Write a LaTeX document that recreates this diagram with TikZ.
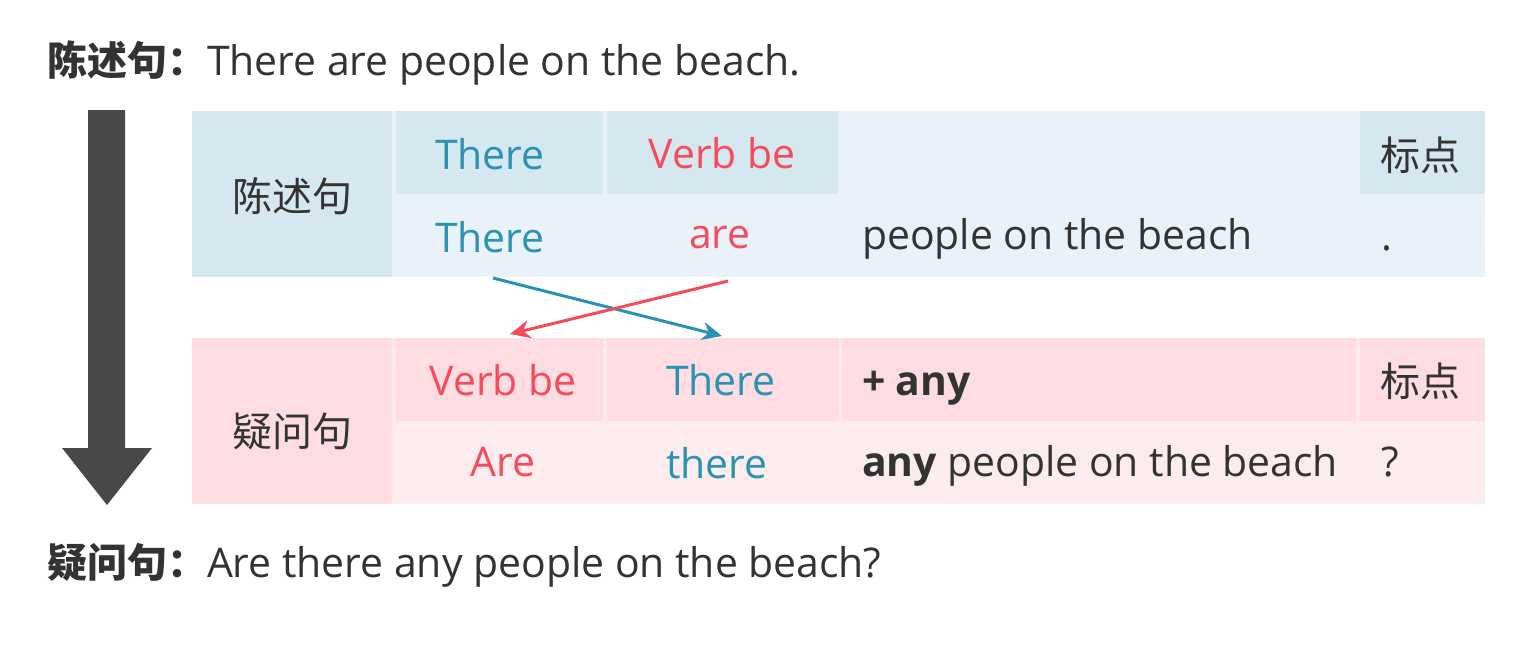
\documentclass[tikz,border=0pt]{standalone}
\usepackage{fontspec}
\setmainfont{Open Sans}
\newfontfamily\cjk{Noto Sans CJK SC}
\usetikzlibrary{arrows.meta}
\definecolor{txt}{HTML}{333333}
\definecolor{blu}{HTML}{2A92B4}
\definecolor{rd}{HTML}{F74B5B}
\definecolor{bdark}{HTML}{D5E8EF}
\definecolor{blight}{HTML}{E8F2F8}
\definecolor{pdark}{HTML}{FDDDE1}
\definecolor{plight}{HTML}{FDECEE}
\definecolor{arr}{HTML}{484848}
\newcommand\bigfont{\fontsize{40.9}{48}\selectfont}
\newcommand\zhfont{\fontsize{40}{48}\selectfont\cjk}
\begin{document}
\begin{tikzpicture}[x=1pt,y=-1pt,
  cell/.style={anchor=north west, inner sep=0pt, outer sep=0pt, draw=none},
  lbl/.style={inner sep=0pt, outer sep=0pt, font=\bigfont, text=txt, anchor=base},
  lblw/.style={lbl, anchor=base west},
  zh/.style={inner sep=0pt, outer sep=0pt, font=\zhfont, text=txt, anchor=center},
  swap/.style={line width=3pt, -{Stealth[length=20pt,width=18pt]}}]
\useasboundingbox (0,0) rectangle (1536,654);
\fill[white] (0,0) rectangle (1536,654);
% titles
\node[lblw] (title1) at (47,75) {{\zhfont\bfseries 陈述句：}There are people on the beach.};
\node[lblw] (title2) at (47,577) {{\zhfont\bfseries 疑问句：}Are there any people on the beach?};
% big down arrow
\fill[arr] (88,110) -- (125,110) -- (125,448) -- (152,448) -- (107,505) -- (62,448) -- (88,448) -- cycle;
% top table
\node[cell, fill=blight, minimum width=1093pt, minimum height=166pt] (tBg) at (392,111) {};
\node[cell, fill=bdark, minimum width=200pt, minimum height=166pt] (tLab) at (192,111) {};
\node[cell, fill=bdark, minimum width=207pt, minimum height=83pt] (tH1) at (396,111) {};
\node[cell, fill=bdark, minimum width=231pt, minimum height=83pt] (tH2) at (607,111) {};
\node[cell, fill=bdark, minimum width=125pt, minimum height=83pt] (tH4) at (1360,111) {};
\node[zh] (tLabT) at (292,196) {陈述句};
\node[lbl, text=blu] (tThereH) at (490,169) {There};
\node[lbl, text=rd] (tVerbH) at (722,168) {Verb be};
\node[zh] (tPunH) at (1420,155) {标点};
\node[lbl, text=blu] (tThere) at (490,252) {There};
\node[lbl, text=rd] (tAre) at (720,248) {are};
\node[lblw] (tRest) at (862,249) {people on the beach};
\node[lblw] (tPun) at (1381,250) {.};
% bottom table
\node[cell, fill=plight, minimum width=1093pt, minimum height=166pt] (bBg) at (392,338) {};
\node[cell, fill=pdark, minimum width=200pt, minimum height=166pt] (bLab) at (192,338) {};
\node[cell, fill=pdark, minimum width=207pt, minimum height=83pt] (bH1) at (396,338) {};
\node[cell, fill=pdark, minimum width=232pt, minimum height=83pt] (bH2) at (607,338) {};
\node[cell, fill=pdark, minimum width=514pt, minimum height=83pt] (bH3) at (842,338) {};
\node[cell, fill=pdark, minimum width=125pt, minimum height=83pt] (bH4) at (1360,338) {};
\node[zh] (bLabT) at (292,431) {疑问句};
\node[lbl, text=rd] (bVerbH) at (503,395) {Verb be};
\node[lbl, text=blu] (bThereH) at (721,395) {There};
\node[lblw] (bAnyH) at (862,395) {\bfseries + any};
\node[zh] (bPunH) at (1420,381) {标点};
\node[lbl, text=rd] (bAre) at (503,476) {Are};
\node[lbl, text=blu] (bThere) at (717,478) {there};
\node[lblw] (bRest) at (862,476) {{\bfseries any} people on the beach};
\node[lblw] (bPun) at (1381,476) {?};
% swap arrows
\coordinate (blueS) at (493,278);
\coordinate (blueE) at (722,336);
\coordinate (redS) at (728,281);
\coordinate (redE) at (510,334);
\draw[swap, draw=blu, fill=blu] (blueS) -- (blueE);
\draw[swap, draw=rd, fill=rd] (redS) -- (redE);
\end{tikzpicture}
\end{document}
